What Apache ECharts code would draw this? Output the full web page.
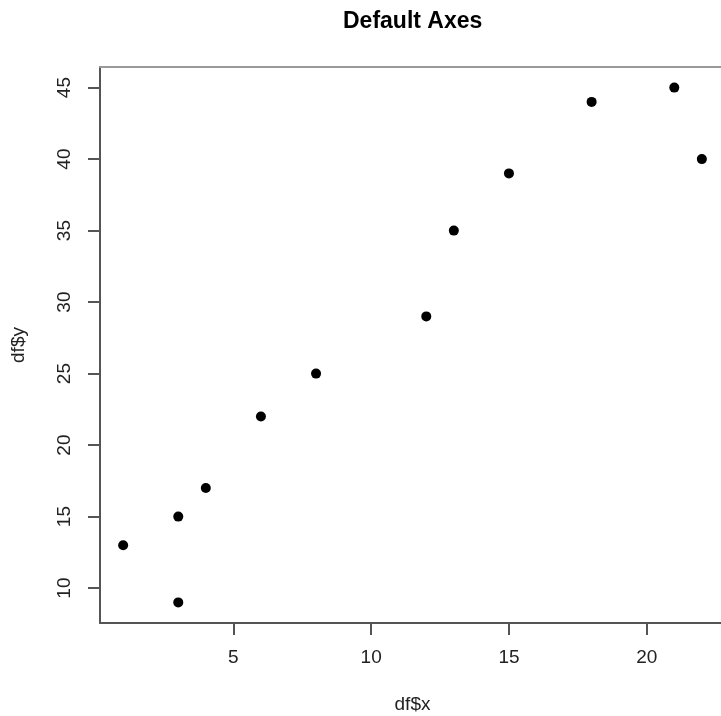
<!DOCTYPE html>
<html>
<head>
<meta charset="utf-8">
<script src="https://cdn.jsdelivr.net/npm/echarts@6/dist/echarts.min.js"></script>
<style>
  html, body { margin: 0; padding: 0; background: #fff; }
  #chart { width: 721px; height: 716px; }
</style>
</head>
<body>
<div id="chart"></div>
<script>
// data
var xs = [1, 3, 3, 4, 6, 8, 12, 13, 15, 18, 21, 22];
var ys = [13, 15, 9, 17, 22, 25, 29, 35, 39, 44, 45, 40];
var xTicks = [5, 10, 15, 20];
var yTicks = [10, 15, 20, 25, 30, 35, 40, 45];

var points = xs.map(function (x, i) { return [x, ys[i]]; });

// R pads the data range by 4% on each side
var xMin = 1 - 0.84, xMax = 22 + 0.84;
var yMin = 9 - 1.44, yMax = 45 + 1.44;

var axisCol = '#555';
var boxCol = '#999';
var textCol = '#222';
var font = 'Liberation Sans, Arial, sans-serif';

var chart = echarts.init(document.getElementById('chart'));
var option = {
  backgroundColor: '#fff',
  animation: false,
  title: {
    text: 'Default Axes',
    left: 343,
    top: 10,
    padding: 0,
    textStyle: { fontSize: 23, fontWeight: 'bold', color: '#000', fontFamily: font }
  },
  grid: {
    left: 100, top: 67, width: 625, height: 556,
    outerBoundsMode: 'none',
    containLabel: false,
    show: false
  },
  xAxis: [{
    type: 'value',
    min: xMin, max: xMax,
    name: 'df$x',
    nameLocation: 'middle',
    nameGap: 72,
    nameTextStyle: { fontSize: 19, color: textCol, fontFamily: font },
    axisLine: { show: true, lineStyle: { color: axisCol, width: 2 } },
    axisTick: { show: true, customValues: xTicks, length: 12, lineStyle: { color: axisCol, width: 2 } },
    axisLabel: { customValues: xTicks, fontSize: 19, color: textCol, margin: 25, fontFamily: font },
    splitLine: { show: false }
  }, {
    // top edge of the plot box
    type: 'value',
    position: 'top',
    min: xMin, max: xMax,
    axisLine: { show: true, lineStyle: { color: boxCol, width: 2 } },
    axisTick: { show: false },
    axisLabel: { show: false },
    splitLine: { show: false }
  }],
  yAxis: {
    type: 'value',
    min: yMin, max: yMax,
    name: 'df$y',
    nameLocation: 'middle',
    nameGap: 72,
    nameRotate: 90,
    nameTextStyle: { fontSize: 19, color: textCol, fontFamily: font },
    axisLine: { show: true, lineStyle: { color: axisCol, width: 2 } },
    axisTick: { show: true, customValues: yTicks, length: 12, lineStyle: { color: axisCol, width: 2 } },
    axisLabel: { customValues: yTicks, rotate: 90, fontSize: 19, color: textCol, margin: 26, fontFamily: font },
    splitLine: { show: false }
  },
  series: [{
    type: 'scatter',
    data: points,
    symbol: 'circle',
    symbolSize: 10,
    itemStyle: { color: '#000', opacity: 1 }
  }]
};
chart.setOption(option);
</script>
</body>
</html>
